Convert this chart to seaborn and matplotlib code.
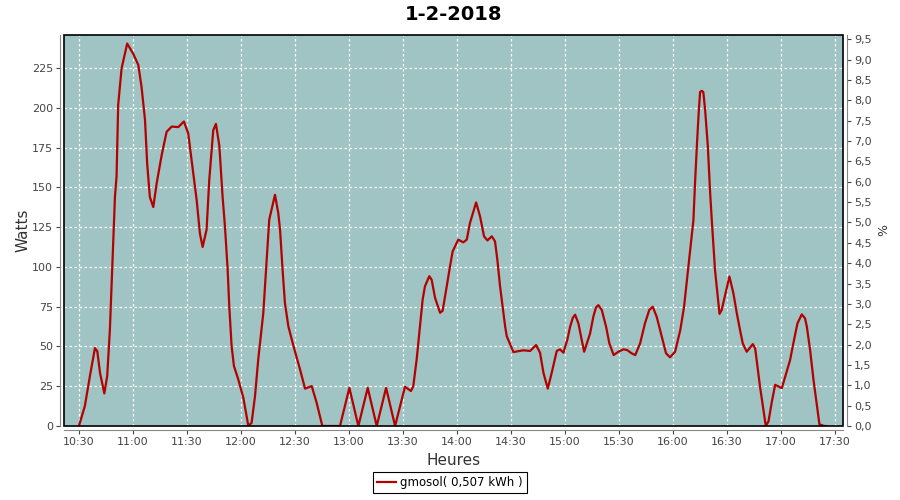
import matplotlib
matplotlib.use("Agg")
import matplotlib.pyplot as plt
from matplotlib.patches import Rectangle
from matplotlib.ticker import FuncFormatter
import pandas as pd
import seaborn as sns

# minutes after 10:30 and power in watts
minutes = [
    0, 3.3, 6.1, 8.9, 10.2, 11.7, 14.1, 15.7, 17.2, 18.1, 19, 20, 20.9, 21.8,
    23.7, 26.8, 30.2, 33, 34.8, 36.7, 37.9, 39.4, 41.3, 43.2, 46, 48.7, 51.5,
    55.2, 58.3, 60.7, 62.6, 65.4, 67.2, 68.7, 70.9, 72.4, 74.6, 76.1, 78, 79.8,
    81.1, 82.6, 83.5, 84.8, 86.1, 88.5, 91.3, 94.1, 95.9, 97.8, 99.6, 102.4,
    104.3, 105.7, 108.9, 110.7, 111.7, 113.1, 114.4, 116.3, 119, 122.8, 125.6,
    129.3, 132, 135.2, 145, 150.2, 155.2, 160.4, 165.4, 170.6, 175.6, 181.1,
    184.4, 185.7, 187.6, 189.4, 190.9, 192.2, 194.6, 195.9, 197.8, 200.6, 202,
    204.3, 206.1, 207.6, 210.7, 213.5, 215.4, 217.2, 220.6, 222.8, 225, 226.9,
    229.3, 231.1, 232.4, 233.9, 236.7, 237.6, 241.3, 246.8, 250.6, 253.9,
    256.1, 258, 260.4, 262.6, 265.4, 267.2, 269.1, 271.3, 272.8, 274.3, 275.6,
    277.4, 279.3, 280.6, 283.9, 285.7, 287.2, 288.5, 290.4, 292.8, 294.6, 297,
    299.6, 302.4, 304.3, 307, 309, 311.7, 314.4, 316.8, 318.7, 320.9, 323.7,
    326.1, 328.3, 331.1, 334, 336.1, 338.5, 341.3, 342.2, 343.2, 344.1, 345,
    345.9, 346.8, 347.8, 349.3, 350.6, 351.5, 353.3, 355.8, 357, 361.3, 363.5,
    365.4, 367.2, 368.7, 370.9, 374.3, 375.6, 378.3, 381.5, 383, 384.8, 386.7,
    390.4, 395, 396.8, 399.1, 401.5, 403.3, 404.3, 406.1, 408, 411.3, 414, 415,
]
watts = [
    0, 12.6, 31.4, 49, 47, 33.5, 20.5, 31.4, 60.7, 87.9, 115, 144, 157, 202,
    225, 240.5, 234, 227, 213, 192.5, 165, 144, 137.7, 152.8, 170.6, 185, 188.3,
    188, 191.5, 184, 167, 142, 121, 112.6, 123.5, 155, 186, 190, 176, 144,
    125.6, 98.4, 75.3, 50.2, 37.7, 29.3, 17.8, 0, 2, 18.8, 42, 71,
    104.6, 129.8, 145.4, 134, 123.5, 98.4, 77.5, 62.8, 51, 35.6, 23.5,
    25.1, 14.7, 0, 0, 24, 0, 24, 0, 24, 0, 24.7,
    22, 25, 42, 62.8, 79.5, 87.9, 94.2, 92, 80.6, 71.2, 72.5,
    87.9, 100.4, 109.9, 117.2, 115.5, 117.2, 127.7, 140.6, 131.8, 119.3, 116.7,
    119.3, 116.1, 104.6, 87.9, 62.8, 56.5, 46.5, 47.6, 47.2, 50.9,
    46.1, 33.5, 23.5, 33.5, 47.2, 48.2, 46.1, 54.4, 62.4, 68, 70,
    64.6, 54, 46.7, 58.2, 68.7, 74.6, 76, 73, 62.4, 52, 44.6,
    46.7, 48.2, 47.9, 45.7, 44.6, 52, 64.6, 73, 75, 68.7, 56.2,
    45.7, 43.2, 46.7, 60.3, 75, 100, 129.5, 152.8, 175.8, 194.6, 210,
    210.8, 210, 198.8, 176, 146.5, 129.5, 98, 70.5, 73, 94, 83.5,
    70.9, 60.3, 52, 46.7, 51.5, 48.8, 24.7, 0, 2.9, 14.9, 25.9,
    23.8, 41.5, 52, 64.6, 70.2, 67.7, 62.5, 47.9, 29, 1, 0, 0,
]

tick_minutes = [0, 30, 60, 90, 120, 150, 180, 210, 240, 270, 300, 330, 360, 390, 420]
tick_labels = ["10:30", "11:00", "11:30", "12:00", "12:30", "13:00", "13:30", "14:00",
               "14:30", "15:00", "15:30", "16:00", "16:30", "17:00", "17:30"]
watt_ticks = [0, 25, 50, 75, 100, 125, 150, 175, 200, 225]
pct_ticks = [0.0, 0.5, 1.0, 1.5, 2.0, 2.5, 3.0, 3.5, 4.0, 4.5, 5.0, 5.5, 6.0, 6.5,
             7.0, 7.5, 8.0, 8.5, 9.0, 9.5]

title = "1-2-2018"
series_label = "gmosol( 0,507 kWh )"

df = pd.DataFrame({"minute": minutes, "watts": watts})

fig = plt.figure(figsize=(9, 5), dpi=100)
ax = fig.add_axes([0.0711, 0.148, 0.8656, 0.782])
ax.set_facecolor("#9fc4c3")

sns.lineplot(data=df, x="minute", y="watts", ax=ax, color="#b40000",
             linewidth=1.6, label=series_label, legend=False)

ax.set_xlim(-8.3, 424.4)
ax.set_ylim(0, 245.9)
ax.set_xticks(tick_minutes)
ax.set_xticklabels(tick_labels)
ax.set_yticks(watt_ticks)
ax.grid(True, color="white", linestyle=(0, (2, 2)), linewidth=0.9)
ax.set_axisbelow(True)

ax.set_xlabel("Heures", fontsize=11, color="#333333", labelpad=4)
ax.set_ylabel("Watts", fontsize=11, color="#333333", labelpad=1)
ax.set_title(title, fontsize=14, fontweight="bold", pad=11)

ax2 = ax.twinx()
ax2.set_ylim(0, 245.9 / 25.6)
ax2.set_yticks(pct_ticks)
ax2.yaxis.set_major_formatter(FuncFormatter(lambda v, p: f"{v:.1f}".replace(".", ",")))
ax2.set_ylabel("%", fontsize=9, color="#333333", labelpad=4)

for a in (ax, ax2):
    for side in ("left", "right", "bottom", "top"):
        a.spines[side].set_visible(False)
    a.tick_params(labelsize=8, colors="#444444", length=3, width=0.8, pad=2)

for side in ("left", "bottom"):
    ax.spines[side].set_visible(True)
    ax.spines[side].set_position(("outward", 3))
    ax.spines[side].set_color("#888888")
ax2.spines["right"].set_visible(True)
ax2.spines["right"].set_position(("outward", 3))
ax2.spines["right"].set_color("#888888")

ax.add_patch(Rectangle((0, 0), 1, 1, transform=ax.transAxes, fill=False,
                       edgecolor="black", linewidth=1.2, zorder=5, clip_on=False))

handles, labels = ax.get_legend_handles_labels()
leg = fig.legend(handles, labels, loc="lower center", bbox_to_anchor=(0.5, 0.002),
                 fontsize=8.5, fancybox=False, framealpha=1, edgecolor="black",
                 handlelength=1.6, borderpad=0.35, handletextpad=0.4)
leg.get_frame().set_linewidth(0.8)

fig.savefig("out.png", dpi=100)
